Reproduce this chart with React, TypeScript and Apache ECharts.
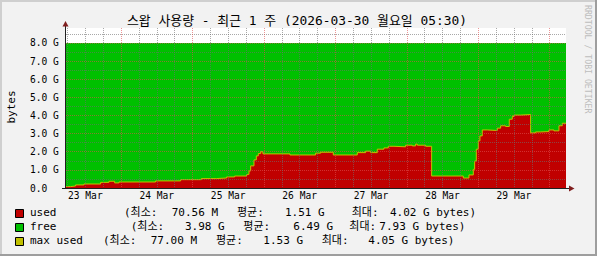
import React, { useEffect, useRef } from "react";
import * as echarts from "echarts";

// time in hours since 2026-03-23 00:00
const usedHours = [5.5, 7.05, 8.73, 11.53, 17.13, 19.93, 21.84, 23.29, 35.61, 44.01, 50.96, 56.0, 59.47, 62.16, 66.19, 66.98, 67.54, 68.66, 69.44, 70.11, 70.9, 71.68, 80.75, 89.37, 91.05, 95.31, 103.37, 106.17, 107.85, 110.09, 112.33, 113.79, 115.69, 119.61, 121.85, 122.97, 123.53, 126.33, 128.35, 138.99, 140.89, 142.35, 142.8, 143.36, 144.03, 144.59, 145.37, 147.05, 150.41, 151.53, 153.21, 154.44, 155.45, 156.01, 158.25, 161.61, 163.29, 164.97, 167.77, 169.45, 171.13, 172.25, 173.5];
// used swap in G
const usedG = [0.07, 0.11, 0.17, 0.22, 0.31, 0.37, 0.28, 0.33, 0.39, 0.46, 0.52, 0.55, 0.61, 0.66, 0.75, 0.94, 1.22, 1.55, 1.77, 1.9, 1.99, 1.88, 1.82, 1.92, 1.97, 1.82, 1.95, 2.03, 1.95, 2.14, 2.21, 2.3, 2.27, 2.36, 2.32, 2.41, 2.36, 2.3, 0.66, 0.55, 0.72, 1.03, 1.49, 2.14, 2.6, 2.87, 3.2, 3.17, 3.3, 3.43, 3.39, 3.79, 3.94, 4.01, 4.02, 3.04, 3.09, 3.11, 3.2, 3.15, 3.43, 3.57, 3.57];
// max used swap in G
const maxUsedG = [0.077, 0.11, 0.17, 0.22, 0.31, 0.37, 0.28, 0.33, 0.39, 0.46, 0.52, 0.55, 0.61, 0.66, 0.75, 0.94, 1.22, 1.55, 1.77, 1.9, 2.0, 1.88, 1.82, 1.92, 1.97, 1.82, 1.95, 2.03, 1.95, 2.14, 2.21, 2.3, 2.27, 2.36, 2.32, 2.42, 2.36, 2.3, 0.66, 0.55, 0.72, 1.03, 1.49, 2.14, 2.6, 2.87, 3.2, 3.17, 3.3, 3.43, 3.39, 3.79, 3.94, 4.02, 4.05, 3.04, 3.09, 3.11, 3.2, 3.15, 3.43, 3.57, 3.57];
// total swap (used + free), G
const memTotalG = 8.0;

const xLabelHours = [12, 36, 60, 84, 108, 132, 156];
const xLabels = ["23 Mar", "24 Mar", "25 Mar", "26 Mar", "27 Mar", "28 Mar", "29 Mar"];
const yLabelValues = [0, 1, 2, 3, 4, 5, 6, 7, 8];
const dayGridHours = [24, 48, 72, 96, 120, 144, 168];
const minorGridHours = [6, 12, 18, 30, 36, 42, 54, 60, 66, 78, 84, 90, 102, 108, 114, 126, 132, 138, 150, 156, 162];
const majorGridG = [1, 2, 3, 4, 5, 6, 7, 8];
const minorGridG = [0.5, 1.5, 2.5, 3.5, 4.5, 5.5, 6.5, 7.5, 8.5];

const titleText = "스왑 사용량 - 최근 1 주 (2026-03-30 월요일 05:30)";
const legendNames = ["used", "free", "max used"];
const legendMin = ["70.56 M", "3.98 G", "77.00 M"];
const legendAvg = ["1.51 G", "6.49 G", "1.53 G"];
const legendMax = ["4.02 G", "7.93 G", "4.05 G"];

const MONO = "'DejaVu Sans Mono', 'Noto Sans CJK KR', monospace";
const COLORS = ["#C00000", "#00C000", "#C0C000"];
const GRID_MINOR = "rgba(110,110,110,0.6)";
const GRID_MAJOR = "rgba(222,79,79,0.6)";
const X_MIN = 5.5;
const X_MAX = 173.5;
const Y_MAX = 8.82;

// legend layout (pixel positions per row)
const rowBase = [218, 232, 246];
const xParen = [124, 130.7, 103];
const xMin = [171.7, 185, 150.7];
const xAvgL = [237, 243.3, 216];
const xAvg = [285, 293.3, 263.3];
const xMaxL = [351.7, 349.3, 321.7];
const xMax = [390, 379.3, 368.3];

function buildOption() {
  const txt = (x: number, y: number, text: string, size = 11, extra: any = {}) => ({
    type: "text",
    x,
    y,
    silent: true,
    style: {
      text,
      font: `${size}px ${MONO}`,
      fill: "#000",
      textAlign: "left",
      textVerticalAlign: "bottom",
      ...extra,
    },
  });

  const graphics: any[] = [
    { type: "rect", shape: { x: 0, y: 0, width: 597, height: 2 }, style: { fill: "#CFCFCF" }, silent: true },
    { type: "rect", shape: { x: 0, y: 0, width: 2, height: 256 }, style: { fill: "#CFCFCF" }, silent: true },
    { type: "rect", shape: { x: 0, y: 254, width: 597, height: 2 }, style: { fill: "#9E9E9E" }, silent: true },
    { type: "rect", shape: { x: 595, y: 0, width: 2, height: 256 }, style: { fill: "#9E9E9E" }, silent: true },
    { type: "line", shape: { x1: 65.5, y1: 188.5, x2: 65.5, y2: 25 }, style: { stroke: "#1F1F1F", lineWidth: 1 }, silent: true, z: 20 },
    { type: "line", shape: { x1: 62, y1: 188.5, x2: 570, y2: 188.5 }, style: { stroke: "#1F1F1F", lineWidth: 1 }, silent: true, z: 20 },
    { type: "polygon", shape: { points: [[62.5, 26.5], [65.5, 21], [68.5, 26.5]] }, style: { fill: "#801F1F" }, silent: true, z: 20 },
    { type: "polygon", shape: { points: [[569, 185.5], [574.5, 188.5], [569, 191.5]] }, style: { fill: "#801F1F" }, silent: true, z: 20 },
    {
      type: "text", x: 297, y: 20, silent: true,
      style: { text: titleText, font: `12.9px ${MONO}`, fill: "#000", textAlign: "center", textVerticalAlign: "middle" },
    },
    {
      type: "text", x: 11, y: 107, rotation: Math.PI / 2, silent: true,
      style: { text: "bytes", font: `11px ${MONO}`, fill: "#000", textAlign: "center", textVerticalAlign: "middle" },
    },
    {
      type: "text", x: 588, y: 5, rotation: -Math.PI / 2, silent: true,
      style: { text: "RRDTOOL / TOBI OETIKER", font: `8.2px ${MONO}`, fill: "#BDBDBD", textAlign: "left", textVerticalAlign: "middle" },
    },
  ];

  legendNames.forEach((name, i) => {
    const b = rowBase[i];
    graphics.push({
      type: "rect",
      shape: { x: 15.5, y: b - 8.5, width: 8, height: 8 },
      style: { fill: COLORS[i], stroke: "#000", lineWidth: 1 },
      silent: true,
    });
    graphics.push(txt(30, b, name));
    graphics.push(txt(xParen[i], b, "(최소:"));
    graphics.push(txt(xMin[i], b, legendMin[i]));
    graphics.push(txt(xAvgL[i], b, "평균:"));
    graphics.push(txt(xAvg[i], b, legendAvg[i]));
    graphics.push(txt(xMaxL[i], b, "최대:"));
    graphics.push(txt(xMax[i], b, legendMax[i] + " bytes)"));
  });

  const dash = [1, 1];
  const gridX = (ticks: number[], color: string, labels: boolean) => ({
    type: "value",
    min: X_MIN,
    max: X_MAX,
    z: 10,
    position: "bottom",
    axisLine: { show: false },
    axisTick: { show: false, customValues: ticks },
    splitLine: { show: true, lineStyle: { color, type: dash, width: 1 } },
    axisLabel: labels
      ? {
          customValues: xLabelHours,
          margin: 3,
          fontFamily: MONO,
          fontSize: 9.6,
          color: "#000",
          formatter: (v: number) => {
            const idx = xLabelHours.indexOf(Math.round(v));
            return idx >= 0 ? xLabels[idx] : "";
          },
        }
      : { show: false },
  });
  const gridY = (ticks: number[], color: string, labels: boolean) => ({
    type: "value",
    min: 0,
    max: Y_MAX,
    z: 10,
    position: "left",
    axisLine: { show: false },
    axisTick: { show: false, customValues: ticks },
    splitLine: { show: true, lineStyle: { color, type: dash, width: 1 } },
    axisLabel: labels
      ? {
          customValues: yLabelValues,
          align: "left",
          margin: 36,
          fontFamily: MONO,
          fontSize: 9.6,
          color: "#000",
          formatter: (v: number) => (v === 0 ? "0.0" : v.toFixed(1) + " G"),
        }
      : { show: false },
  });

  return {
    animation: false,
    backgroundColor: "#F2F2F2",
    grid: { left: 66, top: 28, width: 500, height: 160, backgroundColor: "#FFFFFF", show: true, borderWidth: 0 },
    xAxis: [gridX(minorGridHours, GRID_MINOR, true), gridX(dayGridHours, GRID_MAJOR, false)],
    yAxis: [gridY(minorGridG, GRID_MINOR, true), gridY(majorGridG, GRID_MAJOR, false)],
    graphic: graphics,
    series: [
      {
        name: "free",
        type: "line",
        step: "end",
        symbol: "none",
        z: 1,
        data: usedHours.map((h) => [h, memTotalG]),
        lineStyle: { width: 0 },
        areaStyle: { color: COLORS[1], opacity: 1 },
        silent: true,
      },
      {
        name: "used",
        type: "line",
        step: "end",
        symbol: "none",
        z: 2,
        data: usedHours.map((h, i) => [h, usedG[i]]),
        lineStyle: { width: 0 },
        areaStyle: { color: COLORS[0], opacity: 1 },
        silent: true,
      },
      {
        name: "max used",
        type: "line",
        step: "end",
        symbol: "none",
        z: 3,
        data: usedHours.map((h, i) => [h, maxUsedG[i]]),
        lineStyle: { width: 1, color: COLORS[2] },
        silent: true,
      },
    ],
  };
}

export default function App() {
  const ref = useRef<HTMLDivElement>(null);
  useEffect(() => {
    document.body.style.margin = "0";
    const chart = echarts.init(ref.current!, null, { renderer: "svg" });
    chart.setOption(buildOption() as any);
    return () => chart.dispose();
  }, []);
  return <div ref={ref} style={{ width: 597, height: 256 }} />;
}
